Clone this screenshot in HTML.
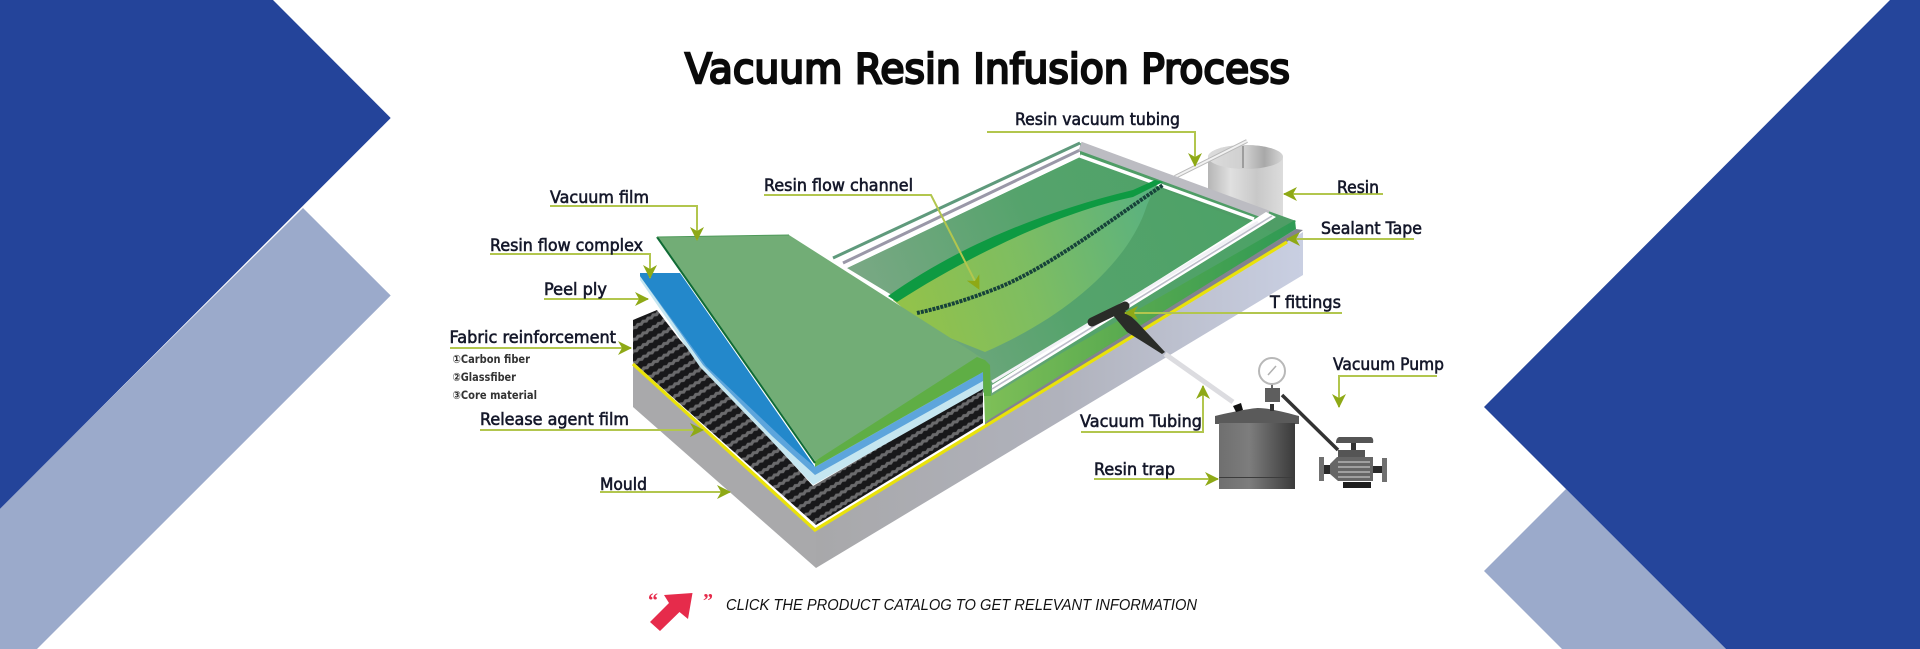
<!DOCTYPE html>
<html lang="en">
<head>
<meta charset="utf-8">
<title>Vacuum Resin Infusion Process</title>
<style>
html,body{margin:0;padding:0;background:#fff;width:1920px;height:649px;overflow:hidden}
svg{display:block}
.l{font-family:"DejaVu Sans","Liberation Sans",sans-serif;font-size:16.5px;fill:#15182a;stroke:#15182a;stroke-width:.6}
.s{font-family:"DejaVu Sans","Noto Sans CJK JP",sans-serif;font-size:11.5px;font-weight:bold;fill:#333}
.a{fill:none;stroke:#b2c64e;stroke-width:2;marker-end:url(#ah)}
</style>
</head>
<body>
<svg width="1920" height="649" viewBox="0 0 1920 649" xmlns="http://www.w3.org/2000/svg">
<defs>
<marker id="ah" markerUnits="userSpaceOnUse" markerWidth="14" markerHeight="14" refX="13" refY="7" orient="auto" viewBox="0 0 14 14">
<path d="M0 0 L14 7 L0 14 L4 7 Z" fill="#8ea916"/>
</marker>
<pattern id="carbon" width="6" height="10" patternUnits="userSpaceOnUse" patternTransform="rotate(-32)">
<rect width="6" height="10" fill="#18181a"/>
<path d="M0 3 L3 1.500 L6 3 L6 6.500 L3 5 L0 6.500 Z" fill="#6a6a6c"/>
</pattern>
<linearGradient id="face" x1="816" y1="0" x2="1303" y2="0" gradientUnits="userSpaceOnUse">
<stop offset="0" stop-color="#a8a8aa"/><stop offset=".5" stop-color="#b0b2bc"/><stop offset="1" stop-color="#c9cfe2"/>
</linearGradient>
<linearGradient id="bag" x1="1250" y1="170" x2="880" y2="330" gradientUnits="userSpaceOnUse">
<stop offset="0" stop-color="#4ca266"/><stop offset=".55" stop-color="#55a36c"/><stop offset="1" stop-color="#79a884"/>
</linearGradient>
<linearGradient id="leaf" x1="900" y1="300" x2="1150" y2="220" gradientUnits="userSpaceOnUse">
<stop offset="0" stop-color="#93c24a"/><stop offset=".5" stop-color="#7dbd62"/><stop offset="1" stop-color="#5cb27e"/>
</linearGradient>
<linearGradient id="strip" x1="985" y1="0" x2="1295" y2="0" gradientUnits="userSpaceOnUse">
<stop offset="0" stop-color="#7ebf57"/><stop offset=".5" stop-color="#55a84f"/><stop offset="1" stop-color="#2f9a55"/>
</linearGradient>
<linearGradient id="can" x1="1208" y1="0" x2="1283" y2="0" gradientUnits="userSpaceOnUse">
<stop offset="0" stop-color="#b5b5b5"/><stop offset=".3" stop-color="#e0e0e0"/><stop offset=".65" stop-color="#c8c8c8"/><stop offset="1" stop-color="#dcdcdc"/>
</linearGradient>
<linearGradient id="can2" x1="1208" y1="0" x2="1283" y2="0" gradientUnits="userSpaceOnUse">
<stop offset="0" stop-color="#dcdcdc"/><stop offset=".5" stop-color="#cfcfcf"/><stop offset=".75" stop-color="#a8a8a8"/><stop offset="1" stop-color="#d6d6d6"/>
</linearGradient>
<linearGradient id="ves" x1="1219" y1="0" x2="1295" y2="0" gradientUnits="userSpaceOnUse">
<stop offset="0" stop-color="#6f6f6f"/><stop offset=".4" stop-color="#7d7d7d"/><stop offset="1" stop-color="#3a3a3a"/>
</linearGradient>
</defs>

<!-- background shapes -->
<polygon points="0,649 37,649 390.7,295.5 303,208 0,508" fill="#9baacb"/>
<polygon points="0,0 273,0 390.7,118 0,508.7" fill="#24449a"/>
<polygon points="1484,571 1566,489 1726,649 1562,649" fill="#9baacb"/>
<polygon points="1890,0 1920,0 1920,649 1726,649 1484,407" fill="#25459b"/>

<!-- title -->
<text x="685" y="83" font-family="'DejaVu Sans','Liberation Sans',sans-serif" font-size="41" fill="#0a0a0a" stroke="#0a0a0a" stroke-width="2.400" textLength="605" lengthAdjust="spacingAndGlyphs">Vacuum Resin Infusion Process</text>

<!-- mould -->
<polygon points="633,362 816,530 816,568 633,407" fill="#a9a9ab"/>
<polygon points="816,530 1287,242 1303,232 1303,275 816,568" fill="url(#face)"/>

<!-- resin can -->
<path d="M1208,157 A37.500,12 0 0 1 1283,157 L1283,218 L1208,200 Z" fill="url(#can)"/>
<ellipse cx="1245.500" cy="157" rx="37.500" ry="12" fill="url(#can2)"/>
<line x1="1243" y1="146" x2="1243" y2="168" stroke="#8c8c8c" stroke-width="1.500"/>
<line x1="1175" y1="177" x2="1247" y2="141" stroke="#b9b9b9" stroke-width="4"/>
<line x1="1175" y1="177" x2="1247" y2="141" stroke="#f2f2f2" stroke-width="2"/>

<!-- bag top surface -->
<polygon points="847,268 1080,157 1296,221 992,402 900,300" fill="url(#bag)"/>
<polygon points="1080,143 1296,221 1280,235 1080,157" fill="#4f9d66"/>
<polygon points="1303,230 1296,229 985,420 985,428 1287,242" fill="#83838f"/>
<polygon points="1295,220 1296,229 985,422 991,396 1060,354" fill="url(#strip)"/>
<polygon points="984,393 991,393 991,418 985,423" fill="#7cbf58"/>

<!-- tubes -->
<polygon points="833,258 1080,143 1080,157 847,268" fill="#fff"/>
<line x1="833" y1="258" x2="1080" y2="143" stroke="#5f9a7c" stroke-width="3"/>
<line x1="843" y1="263" x2="1080" y2="150" stroke="#9a98a8" stroke-width="3"/>
<line x1="1080" y1="146" x2="1268" y2="215" stroke="#bcbcc2" stroke-width="9"/>
<line x1="1080" y1="156" x2="1254" y2="219" stroke="#fff" stroke-width="3.500"/>
<polygon points="1266,212 1276,217 992,393 992,385" fill="#fff"/>
<line x1="1258" y1="222" x2="992" y2="382" stroke="#f2f2f6" stroke-width="3"/>
<line x1="1272" y1="216" x2="992" y2="389" stroke="#bdbdca" stroke-width="1.600"/>

<!-- resin flow area -->
<path d="M893,300 C960,255 1060,210 1133,194 L1157,182 L1147,205 C1130,260 1070,315 985,352 L930,330 Z" fill="url(#leaf)"/>
<path d="M888,296 C950,252 1030,215 1133,190 L1155,180 L1163,182 L1133,197 C1060,212 970,255 897,302 Z" fill="#0e9a42"/>
<path d="M917,313 C945,307 975,297 1000,287 C1050,266 1105,224 1163,185" fill="none" stroke="#17433a" stroke-width="4" stroke-dasharray="3 1"/>

<!-- left stack -->
<polygon points="633,320 657,310 680,340 813,486 983,387 983,423 816,525 633,362" fill="url(#carbon)"/>
<polyline points="633,364 815,530 1287,242" fill="none" stroke="#e9e20a" stroke-width="3.200"/>
<polygon points="640,280 700,367 765,434 813,485 983,389 983,372 815,467 675,273 640,273" fill="#c5e6f0"/>
<polygon points="640,276 703,365 772,436 815,475 983,381 983,372 815,467 675,273 640,273" fill="#5da5dc"/>
<polygon points="640,273 680,273 815,467 795,450 706,366 640,276" fill="#2388cb"/>

<!-- vacuum film flap -->
<polygon points="657,237 789,235 985,360 815,461" fill="#72ad76"/>
<polygon points="815,461 977,357 985,360 990,365 991,396 984,396 983,372 815,467" fill="#5fae45"/>
<line x1="657" y1="237" x2="815" y2="463" stroke="#0f6b35" stroke-width="2"/>
<line x1="657" y1="237" x2="789" y2="235" stroke="#4f9a5a" stroke-width="1"/>

<!-- T fitting and tubing -->
<line x1="1092" y1="322" x2="1125" y2="306" stroke="#2a2c28" stroke-width="9" stroke-linecap="round"/>
<polygon points="1112,314 1122,308 1137,322 1165,352 1162,354 1127,332" fill="#2a2c28"/>
<line x1="1165" y1="354" x2="1233" y2="402" stroke="#dcdce0" stroke-width="5"/>

<!-- resin trap -->
<path d="M1215,416 C1240,410 1255,408 1258,408 C1268,408 1285,412 1299,416 L1299,424 L1215,424 Z" fill="#5a5a5a"/>
<rect x="1219" y="423" width="76" height="66" fill="url(#ves)"/>
<rect x="1219" y="477" width="76" height="1" fill="#3c3c3c"/>
<polygon points="1233,406 1241,403 1243,410 1236,412" fill="#111"/>
<rect x="1270" y="404" width="4" height="7" fill="#333"/>
<rect x="1265" y="388" width="15" height="14" fill="#5e5e5e"/>
<line x1="1272" y1="384" x2="1272" y2="388" stroke="#666" stroke-width="2"/>
<circle cx="1272" cy="371" r="13" fill="#fff" stroke="#b8b8b8" stroke-width="2"/>
<line x1="1268" y1="375" x2="1276" y2="366" stroke="#b0b0b0" stroke-width="1.500"/>
<line x1="1282" y1="395" x2="1338" y2="450" stroke="#333" stroke-width="3.500"/>

<!-- pump -->
<path d="M1339,437 H1371 Q1374,438 1373,443 H1336 Q1336,438 1339,437 Z" fill="#555"/>
<rect x="1351" y="443" width="5" height="8" fill="#333"/>
<rect x="1338" y="450" width="27" height="8" fill="#555"/>
<polygon points="1337,457 1373,457 1373,481 1338,481 1330,474 1330,464" fill="#666"/>
<rect x="1319" y="457" width="5" height="24" fill="#707070"/>
<rect x="1324" y="465" width="6" height="9" fill="#2a2a2a"/>
<rect x="1382" y="458" width="5" height="24" fill="#707070"/>
<rect x="1373" y="466" width="9" height="7" fill="#2a2a2a"/>
<g stroke="#c4c4c4" stroke-width="1.300"><line x1="1338" y1="462" x2="1370" y2="462"/><line x1="1338" y1="467" x2="1370" y2="467"/><line x1="1338" y1="472" x2="1370" y2="472"/><line x1="1338" y1="477" x2="1370" y2="477"/></g>
<rect x="1343" y="482" width="28" height="6" fill="#1e1e1e"/>

<!-- connectors -->
<path class="a" d="M987,132 H1195 V166"/>
<path class="a" d="M550,206 H697 V240"/>
<path class="a" d="M764,195 H931 L979,289"/>
<path class="a" d="M490,254 H650 V278"/>
<path class="a" d="M544,299 H648"/>
<path class="a" d="M450,348 H631"/>
<path class="a" d="M480,430 H703"/>
<path class="a" d="M600,492 H730"/>
<path class="a" d="M1383,194 H1284"/>
<path class="a" d="M1414,239 H1287"/>
<path class="a" d="M1342,313 H1125"/>
<path class="a" d="M1081,432 H1203 V386"/>
<path class="a" d="M1094,479 H1218"/>
<path class="a" d="M1437,376 H1339 V407"/>

<!-- labels -->
<text class="l" x="1015" y="125" textLength="165" lengthAdjust="spacingAndGlyphs">Resin vacuum tubing</text>
<text class="l" x="550" y="203" textLength="99" lengthAdjust="spacingAndGlyphs">Vacuum film</text>
<text class="l" x="764" y="191" textLength="149" lengthAdjust="spacingAndGlyphs">Resin flow channel</text>
<text class="l" x="490" y="251" textLength="153" lengthAdjust="spacingAndGlyphs">Resin flow complex</text>
<text class="l" x="544" y="295" textLength="63" lengthAdjust="spacingAndGlyphs">Peel ply</text>
<text class="l" x="449.500" y="343" textLength="166.500" lengthAdjust="spacingAndGlyphs">Fabric reinforcement</text>
<text class="s" x="452.500" y="363" textLength="77.500" lengthAdjust="spacingAndGlyphs">①Carbon fiber</text>
<text class="s" x="452.500" y="381" textLength="63.500" lengthAdjust="spacingAndGlyphs">②Glassfiber</text>
<text class="s" x="452.500" y="399" textLength="84.500" lengthAdjust="spacingAndGlyphs">③Core material</text>
<text class="l" x="480" y="425" textLength="149" lengthAdjust="spacingAndGlyphs">Release agent film</text>
<text class="l" x="600" y="490" textLength="47" lengthAdjust="spacingAndGlyphs">Mould</text>
<text class="l" x="1337" y="193" textLength="42" lengthAdjust="spacingAndGlyphs">Resin</text>
<text class="l" x="1321" y="234" textLength="101" lengthAdjust="spacingAndGlyphs">Sealant Tape</text>
<text class="l" x="1270" y="308" textLength="71" lengthAdjust="spacingAndGlyphs">T fittings</text>
<text class="l" x="1080" y="427" textLength="122" lengthAdjust="spacingAndGlyphs">Vacuum Tubing</text>
<text class="l" x="1094" y="475" textLength="81" lengthAdjust="spacingAndGlyphs">Resin trap</text>
<text class="l" x="1333" y="370" textLength="111" lengthAdjust="spacingAndGlyphs">Vacuum Pump</text>

<!-- call to action -->
<polygon points="664,595 692.500,593 688,619 679.500,612 660,631 650,622 669,603" fill="#e62b4b"/>
<text x="648" y="607" font-family="'Liberation Serif',serif" font-weight="bold" font-size="20" fill="#e62b4b">“</text>
<text x="703" y="607" font-family="'Liberation Serif',serif" font-weight="bold" font-size="20" fill="#e62b4b">”</text>
<text x="726" y="610" font-family="'Liberation Sans',sans-serif" font-style="italic" font-size="15.500" fill="#111" textLength="471" lengthAdjust="spacingAndGlyphs">CLICK THE PRODUCT CATALOG TO GET RELEVANT INFORMATION</text>
</svg>
</body>
</html>
